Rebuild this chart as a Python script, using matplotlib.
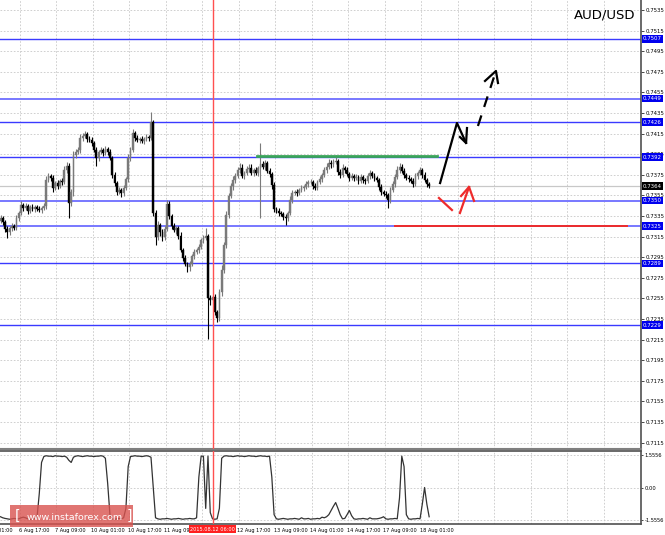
import numpy as np
import matplotlib.pyplot as plt
import matplotlib.transforms as mtransforms
from matplotlib.patches import Rectangle

# Datos (precios en pips, 7364 = 0.7364)
closes = [
    7333, 7329, 7322, 7319, 7323, 7325, 7323, 7333, 7338, 7346,
    7343, 7345, 7340, 7344, 7342, 7344, 7342, 7341, 7343, 7345,
    7370, 7374, 7372, 7362, 7367, 7364, 7369, 7368, 7380, 7384,
    7348, 7358, 7394, 7397, 7399, 7411, 7413, 7415, 7410, 7409,
    7406, 7399, 7391, 7397, 7399, 7396, 7400, 7397, 7391, 7375,
    7367, 7358, 7360, 7357, 7362, 7371, 7391, 7399, 7416, 7411,
    7409, 7410, 7408, 7410, 7412, 7411, 7426, 7338, 7315, 7326,
    7319, 7315, 7322, 7347, 7335, 7325, 7321, 7323, 7316, 7302,
    7294, 7288, 7285, 7288, 7296, 7300, 7302, 7305, 7312, 7314,
    7316, 7255, 7253, 7256, 7242, 7236, 7261, 7283, 7307, 7336,
    7354, 7364, 7370, 7374, 7380, 7382, 7374, 7377, 7381, 7382,
    7377, 7380, 7377, 7382, 7385, 7383, 7386, 7379, 7376, 7365,
    7342, 7340, 7338, 7337, 7334, 7333, 7338, 7351, 7357, 7358,
    7357, 7360, 7362, 7363, 7366, 7368, 7368, 7364, 7362, 7368,
    7371, 7375, 7380, 7383, 7386, 7385, 7387, 7388, 7378, 7375,
    7382, 7380, 7376, 7372, 7374, 7372, 7373, 7369, 7373, 7370,
    7369, 7374, 7377, 7374, 7372, 7370, 7363, 7358, 7356, 7355,
    7351, 7360, 7366, 7373, 7380, 7383, 7379, 7375, 7372, 7371,
    7369, 7366, 7374, 7377, 7380, 7375, 7370, 7366, 7364,
]
first_open = 7330

wick_up = [
    3, 2, 2, 3, 2, 3, 2, 3, 2, 4,
    2, 3, 2, 2, 3, 2, 2, 3, 2, 3,
    4, 3, 2, 3, 2, 3, 2, 3, 4, 3,
    2, 3, 4, 3, 3, 4, 3, 3, 2, 3,
    3, 2, 3, 2, 3, 2, 3, 2, 3, 2,
    3, 2, 3, 2, 3, 2, 4, 3, 3, 2,
    3, 2, 3, 2, 3, 2, 10, 2, 3, 4,
    2, 3, 3, 4, 3, 2, 3, 2, 2, 3,
    2, 3, 2, 3, 2, 3, 2, 3, 2, 3,
    7, 2, 3, 2, 3, 2, 3, 4, 3, 4,
    3, 3, 4, 3, 3, 4, 3, 2, 3, 3,
    3, 2, 3, 2, 21, 3, 3, 2, 3, 2,
    3, 2, 3, 2, 2, 3, 2, 3, 3, 2,
    3, 2, 3, 2, 3, 2, 3, 2, 3, 2,
    3, 2, 3, 3, 4, 3, 3, 6, 2, 3,
    3, 2, 3, 2, 3, 2, 3, 2, 3, 2,
    2, 3, 3, 2, 3, 2, 2, 3, 2, 3,
    2, 3, 3, 3, 4, 3, 2, 3, 2, 3,
    2, 3, 3, 2, 3, 2, 3, 2, 2,
]
wick_dn = [
    2, 3, 3, 5, 2, 3, 2, 2, 3, 2,
    3, 2, 3, 2, 2, 3, 2, 2, 3, 2,
    3, 2, 3, 4, 2, 3, 2, 3, 2, 3,
    15, 3, 4, 3, 2, 3, 3, 2, 3, 2,
    3, 2, 7, 3, 2, 3, 2, 3, 2, 3,
    3, 3, 2, 4, 3, 2, 3, 3, 2, 3,
    2, 3, 2, 3, 2, 3, 2, 3, 8, 3,
    3, 4, 3, 2, 3, 3, 2, 3, 3, 2,
    3, 2, 4, 3, 2, 3, 2, 3, 2, 3,
    2, 39, 4, 3, 3, 4, 3, 4, 3, 3,
    3, 2, 4, 3, 2, 3, 2, 3, 2, 3,
    2, 3, 2, 3, 49, 2, 3, 2, 3, 4,
    3, 2, 3, 2, 3, 7, 3, 2, 3, 2,
    3, 2, 2, 3, 2, 3, 2, 3, 2, 2,
    2, 3, 2, 3, 2, 3, 2, 2, 3, 3,
    2, 3, 2, 3, 2, 3, 2, 3, 2, 3,
    3, 2, 3, 2, 3, 2, 3, 3, 2, 3,
    8, 3, 2, 3, 2, 3, 2, 3, 2, 3,
    2, 3, 2, 3, 2, 3, 2, 3, 2,
]

indicador = [
    -1.40, -1.45, -1.48, -1.50, -1.52, -1.50, -1.48, -1.50, -1.50, -1.45,
    -1.42, -1.45, -1.50, -1.52, -1.50, -1.50, -1.45, -0.30, 1.20,
    1.48, 1.52, 1.50, 1.50, 1.48, 1.52, 1.50, 1.50, 1.48, 1.50, 1.45,
    1.30, 1.20, 1.45,
    1.50, 1.52, 1.50, 1.48, 1.50, 1.52, 1.50, 1.50, 1.48, 1.50, 1.50, 1.52, 1.50,
    1.40, 0.20, -1.30,
    -1.50, -1.52, -1.50, -1.48, -1.50, -1.45, -1.00, 1.00,
    1.48, 1.50, 1.52, 1.50, 1.50, 1.48, 1.50, 1.52, 1.50, 1.45, 0.00,
    -1.45, -1.50, -1.52, -1.50, -1.50, -1.48, -1.50, -1.52, -1.50, -1.50,
    -1.48, -1.50, -1.52, -1.50, -1.50, -1.48, -1.50, -1.50, -1.45,
    0.50, 1.50, 1.50, -1.00, 1.50, -1.20,
    -1.50, -1.52, -1.50, -1.00,
    1.40, 1.50, 1.52, 1.50, 1.50, 1.48, 1.50, 1.52, 1.50, 1.50, 1.48,
    1.50, 1.52, 1.50, 1.50, 1.48, 1.50, 1.52, 1.50, 1.50, 1.48, 1.50,
    0.50, -1.30,
    -1.50, -1.52, -1.50, -1.48, -1.50, -1.52, -1.50, -1.50, -1.48, -1.50,
    -1.52, -1.45, -1.50, -1.50, -1.48, -1.52, -1.50, -1.50, -1.48, -1.50,
    -1.42, -1.45, -1.40,
    -1.30, -1.10, -0.90, -0.72, -1.00, -1.30, -1.50, -1.48,
    -1.30, -1.10, -1.35,
    -1.50, -1.52, -1.50, -1.50, -1.48, -1.50, -1.52, -1.45, -1.50, -1.50,
    -1.50, -1.48, -1.45, -1.40, -1.50, -1.52, -1.50, -1.50, -1.48, -1.50,
    -0.50, 1.50, 1.00, -1.30,
    -1.50, -1.52, -1.50, -1.50, -1.48, -1.50,
    -0.80, 0.00, -0.80, -1.40,
]

niveles = [0.7507, 0.7449, 0.7426, 0.7392, 0.7350, 0.7325, 0.7289, 0.7229]
niveles_gruesos = [0.7449, 0.7350, 0.7325]
precio_actual = 0.7364

# posiciones de las etiquetas de tiempo (en barras)
t_pos = [-7.5, 8.5, 24.5, 40.5, 56.5, 72.5, 104.5, 120.5, 136.5, 152.5, 168.5, 184.5]
t_lab = ['6 Aug 01:00', '6 Aug 17:00', '7 Aug 09:00', '10 Aug 01:00', '10 Aug 17:00',
         '11 Aug 09:00', '12 Aug 17:00', '13 Aug 09:00', '14 Aug 01:00',
         '14 Aug 17:00', '17 Aug 09:00', '18 Aug 01:00']
grid_x = [8.5 + 16 * k for k in range(17)]
linea_roja_x = 93
linea_roja_lab = '2015.08.12 06:00'

# dibujos a mano (barra, precio)
verde = ([112.5, 191.4], [0.73928, 0.73928])
roja_h = ([173.0, 274.8], [0.7325, 0.7325])
negra = ([192.8, 200.2, 204.2], [0.73670, 0.74253, 0.74059])
negra_punta = ([201.5, 204.2, 204.6], [0.74117, 0.74059, 0.74204])
negra_disc = ([209.4, 217.3], [0.74224, 0.74758])
negra_disc_punta = ([212.5, 217.3, 218.2], [0.74661, 0.74758, 0.74641])
roja_trazo = ([192.3, 198.0], [0.73525, 0.73408])
roja_flecha = ([201.5, 205.5], [0.73379, 0.73632])
roja_punta = ([202.0, 205.5, 207.7], [0.73544, 0.73632, 0.73496])

c = np.array(closes) / 10000
o = np.concatenate([[first_open], closes[:-1]]) / 10000
hi = np.maximum(o, c) + np.array(wick_up) / 10000
lo = np.minimum(o, c) - np.array(wick_dn) / 10000
idx = np.arange(len(c))
sube = c >= o

W, H = 665, 535
fig = plt.figure(figsize=(6.65, 5.35), dpi=100)
ax = fig.add_axes([0, 86 / H, 641 / W, 449 / H])
ax2 = fig.add_axes([0, 11 / H, 641 / W, 73 / H])

xmin = -0.22
xmax = xmin + 641 / 2.28
grid_kw = dict(color='#c8c8c8', lw=0.6, ls=(0, (2, 2)), zorder=0)
fs = 3.9

# ---- panel principal
ax.set_xlim(xmin, xmax)
ax.set_ylim(0.710878, 0.754471)
yt = np.arange(0.7115, 0.75351, 0.002)
ax.set_yticks(yt)
ax.set_yticklabels(['%.4f' % v for v in yt])
ax.yaxis.tick_right()
ax.tick_params(axis='y', labelsize=fs, length=2, pad=1.5, width=0.5)
ax.set_xticks([])
for v in yt:
    ax.axhline(v, **grid_kw)
for gx in grid_x:
    ax.axvline(gx, **grid_kw)

for nv in niveles:
    if nv in niveles_gruesos:
        ax.axhline(nv, color='#7878ff', lw=1.4, zorder=1)
    else:
        ax.axhline(nv, color='#3a3aff', lw=1.0, zorder=1)
ax.axhline(precio_actual, color='#c8c8c8', lw=0.9, zorder=1)

col = np.where(sube, '#7a7a7a', '#000000')
ax.vlines(idx, lo, hi, colors=col, lw=0.8, zorder=3)
cuerpo = np.maximum(np.abs(c - o), 0.00004)
ax.bar(idx, cuerpo, bottom=np.minimum(o, c), width=0.75, color=col,
       edgecolor=col, lw=0.3, zorder=3)

ax.plot(*verde, color='#3aa55a', lw=2, zorder=4)
ax.plot(*roja_h, color='#ee2b2b', lw=1.4, zorder=4)
ax.plot(*negra, color='black', lw=1.6, zorder=5)
ax.plot(*negra_punta, color='black', lw=1.6, zorder=5)
ax.plot(*negra_disc, color='black', lw=1.6, ls=(0, (5, 4)), zorder=5)
ax.plot(*negra_disc_punta, color='black', lw=1.6, zorder=5)
ax.plot(*roja_trazo, color='#ee2b2b', lw=1.6, zorder=5)
ax.plot(*roja_flecha, color='#ee2b2b', lw=1.6, zorder=5)
ax.plot(*roja_punta, color='#ee2b2b', lw=1.6, zorder=5)

ax.axvline(linea_roja_x, color='#ff5050', lw=1.0, zorder=6)

ax.text(0.992, 0.967, 'AUD/USD', transform=ax.transAxes, ha='right',
        va='center', fontsize=9.5)

tr = mtransforms.blended_transform_factory(ax.transAxes, ax.transData)
for nv in niveles:
    ax.text(1.003, nv, '%.4f' % nv, transform=tr, ha='left', va='center',
            fontsize=fs, color='white', clip_on=False, zorder=10,
            bbox=dict(boxstyle='square,pad=0.25', fc='#0000ee', ec='none'))
ax.text(1.003, precio_actual, '%.4f' % precio_actual, transform=tr, ha='left',
        va='center', fontsize=fs, color='white', clip_on=False, zorder=10,
        bbox=dict(boxstyle='square,pad=0.25', fc='#000000', ec='none'))

for s in ['top', 'left']:
    ax.spines[s].set_visible(False)
ax.spines['right'].set_color('#505050')
ax.spines['right'].set_linewidth(1.2)
ax.spines['bottom'].set_color('#808080')
ax.spines['bottom'].set_linewidth(1.5)

# ---- panel del indicador
ax2.set_xlim(xmin, xmax)
ax2.set_ylim(-1.747, 1.747)
ax2.plot(idx, indicador, color='#333333', lw=0.9, zorder=3)
ax2.set_yticks([1.5556, 0.0, -1.5556])
ax2.set_yticklabels(['1.5556', '0.00', '-1.5556'])
ax2.yaxis.tick_right()
ax2.tick_params(axis='y', labelsize=3.7, length=1.5, pad=1, width=0.5)
ax2.set_xticks([])
for v in [1.5556, 0.0, -1.5556]:
    ax2.axhline(v, **grid_kw)
for gx in grid_x:
    ax2.axvline(gx, **grid_kw)
ax2.axvline(linea_roja_x, color='#ff5050', lw=1.0, zorder=6)
ax2.spines['left'].set_visible(False)
for s in ['top', 'bottom', 'right']:
    ax2.spines[s].set_color('#505050')
    ax2.spines[s].set_linewidth(1.2)

trx = mtransforms.blended_transform_factory(ax2.transData, ax2.transAxes)
for xp, lb in zip(t_pos, t_lab):
    ax2.text(xp - 0.6, -0.06, lb, transform=trx, ha='left', va='top',
             fontsize=3.6, clip_on=False)
ax2.text(linea_roja_x, -0.04, linea_roja_lab, transform=trx, ha='center',
         va='top', fontsize=3.6, color='white', clip_on=False, zorder=10,
         bbox=dict(boxstyle='square,pad=0.3', fc='#ff2020', ec='none'))

# marca de agua
fig.patches.append(Rectangle((10 / W, 8 / H), 123 / W, 22 / H,
                             transform=fig.transFigure, fc='#d9534f',
                             alpha=0.8, ec='none', zorder=20))
fig.text(15 / W, 19 / H, '[', color='white', fontsize=10, va='center',
         ha='left', zorder=21)
fig.text(75 / W, 18 / H, 'www.instaforex.com', color='white', fontsize=6.8,
         va='center', ha='center', zorder=21)
fig.text(127 / W, 19 / H, ']', color='white', fontsize=10, va='center',
         ha='left', zorder=21)

plt.savefig('out.png', dpi=100)
